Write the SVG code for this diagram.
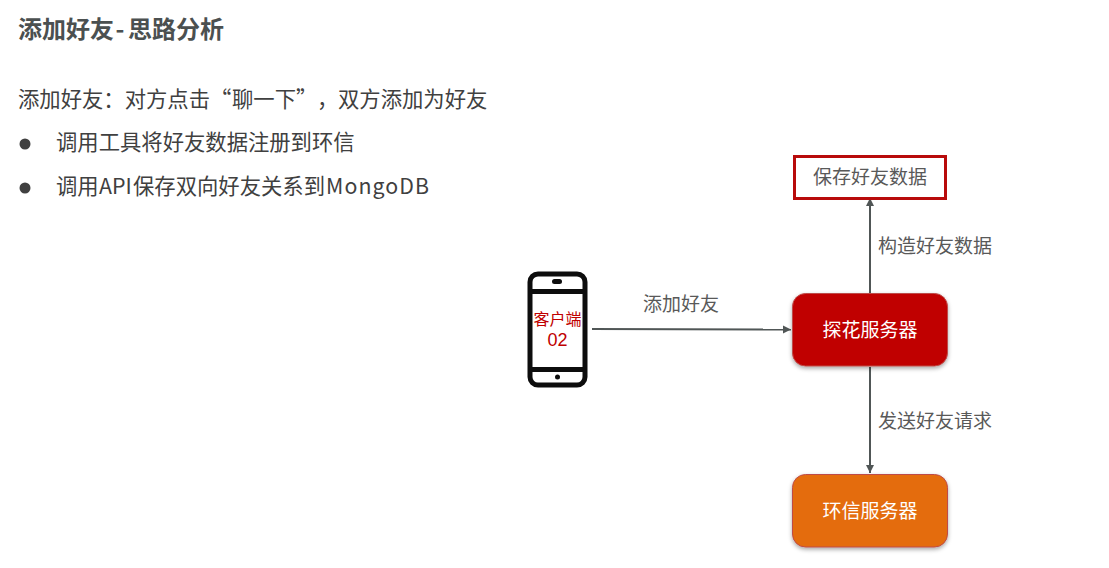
<svg xmlns="http://www.w3.org/2000/svg" width="1109" height="568" viewBox="0 0 1109 568">
<style>
text{font-family:"Noto Sans CJK SC","Noto Sans",sans-serif}
.t{font-size:21.33px;fill:#404040}
.l{font-size:19px;fill:#595959;text-anchor:middle}
.w{font-size:19px;fill:#fff;text-anchor:middle}
.c{stroke:#505656;stroke-width:2;fill:none;marker-end:url(#a)}
</style>
<defs>
<marker id="a" markerUnits="userSpaceOnUse" markerWidth="9" markerHeight="9" refX="8" refY="4" orient="auto"><path d="M0 0L8 4L0 8Z" fill="#505656"/></marker>
<filter id="s" x="-10%" y="-10%" width="120%" height="125%"><feDropShadow dx="0" dy="2" stdDeviation="2" flood-color="#000" flood-opacity=".35"/></filter>
</defs>
<rect width="1109" height="568" fill="#fff"/>
<g id="page-text">
<text x="18" y="38" font-size="24" font-weight="700" fill="#4b5050">添加好友<tspan x="115.500">-</tspan><tspan x="128">思路分析</tspan></text>
<text x="18" y="107" class="t">添加好友：对方点击<tspan x="210">“</tspan><tspan x="232">聊一下</tspan><tspan x="296">”</tspan><tspan x="317">，</tspan><tspan x="338">双方添加为好友</tspan></text>
<circle cx="25" cy="144" r="5.5" fill="#404040"/>
<text x="56" y="150" class="t">调用工具将好友数据注册到环信</text>
<circle cx="25" cy="188" r="5.5" fill="#404040"/>
<text x="56" y="194" class="t">调用<tspan x="99">API</tspan><tspan x="133">保存双向好友关系到</tspan><tspan x="326" textLength="103" lengthAdjust="spacing">MongoDB</tspan></text>
</g>
<g id="connectors">
<path class="c" d="M592 329L791 329.500"/>
<path class="c" d="M870 293V198"/>
<path class="c" d="M870 367V473"/>
<text x="681" y="311" class="l">添加好友</text>
<text x="935" y="253" class="l">构造好友数据</text>
<text x="935" y="428" class="l">发送好友请求</text>
</g>
<g id="client">
<rect x="530" y="274" width="55" height="111" rx="8" fill="#fff" stroke="#0d0d0d" stroke-width="5"/>
<path d="M530 291.500H585M530 369.500H585" stroke="#0d0d0d" stroke-width="5"/>
<rect x="552" y="279" width="10" height="5" rx="2.500" fill="#0d0d0d"/>
<circle cx="557.500" cy="377" r="2.500" fill="#0d0d0d"/>
<text x="557.500" y="325" font-size="16" fill="#c00000" text-anchor="middle">客户端</text>
<text x="557.500" y="346" font-size="18" fill="#c00000" text-anchor="middle" style="font-family:'Liberation Sans',sans-serif">02</text>
</g>
<g id="save-data">
<rect x="794.500" y="156.500" width="151" height="42" fill="#fff" stroke="#b80b0b" stroke-width="3"/>
<text x="870" y="184" class="l">保存好友数据</text>
</g>
<g id="tanhua-server">
<rect x="792.500" y="293.500" width="155" height="72.500" rx="13" fill="#c00000" stroke="#be4b48" filter="url(#s)"/>
<text x="870" y="337" class="w">探花服务器</text>
</g>
<g id="huanxin-server">
<rect x="792.500" y="474.500" width="155" height="72.500" rx="13" fill="#e46c0a" stroke="#be4b48" filter="url(#s)"/>
<text x="870" y="518" class="w">环信服务器</text>
</g>
</svg>
